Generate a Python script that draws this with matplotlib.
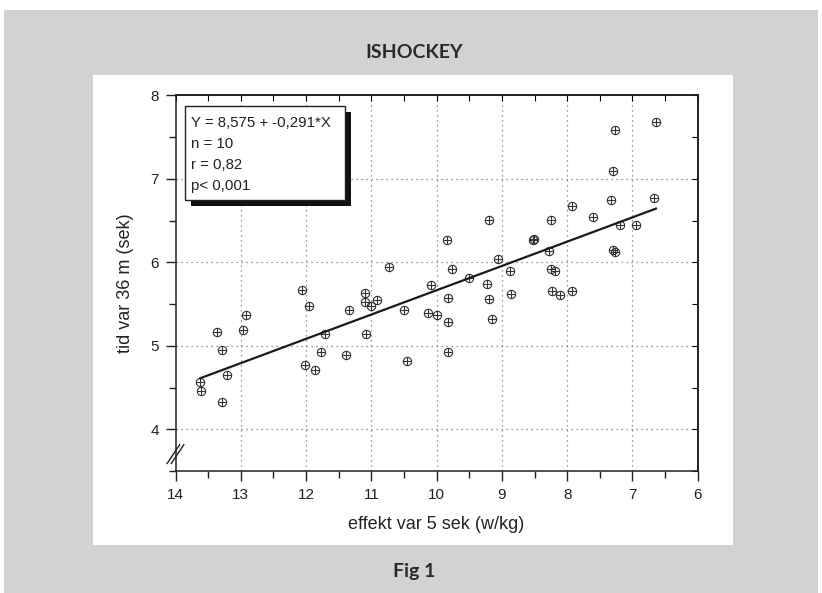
"""
    Ishockey: tid var 36 m mot effekt var 5 sek, med regressionslinje.
"""
# Modules:
import matplotlib
matplotlib.use("Agg")
import matplotlib.pyplot as plt
from matplotlib.patches import Rectangle
from matplotlib.ticker import MultipleLocator

# Data:
effekt = [13.62, 13.61, 13.29, 13.36, 13.29, 13.21, 12.97, 12.92, 12.06, 11.96,
          12.01, 11.87, 11.77, 11.71, 11.39, 11.34, 11.09, 11.10, 11.01, 10.92,
          11.08, 10.73, 10.50, 10.45, 10.13, 9.99, 10.09, 9.82, 9.82, 9.82,
          9.84, 9.76, 9.50, 9.23, 9.19, 9.15, 9.20, 9.06, 8.87, 8.86,
          8.53, 8.51, 8.28, 8.25, 8.25, 8.19, 8.23, 8.11, 7.93, 7.93,
          7.61, 7.33, 7.30, 7.27, 7.19, 6.94, 7.29, 7.26, 6.67, 6.64]
tid = [4.57, 4.46, 4.33, 5.16, 4.95, 4.65, 5.19, 5.37, 5.67, 5.48,
       4.77, 4.71, 4.92, 5.14, 4.89, 5.43, 5.63, 5.53, 5.48, 5.55,
       5.14, 5.94, 5.43, 4.82, 5.39, 5.37, 5.73, 5.57, 5.29, 4.92,
       6.27, 5.92, 5.81, 5.74, 5.56, 5.32, 6.51, 6.04, 5.89, 5.62,
       6.27, 6.28, 6.14, 6.51, 5.92, 5.90, 5.66, 5.61, 6.68, 5.65,
       6.54, 6.75, 7.09, 7.59, 6.45, 6.45, 6.15, 6.12, 6.77, 7.68]
intercept = 8.575
slope = -0.291
stats_lines = ["Y = 8,575 + -0,291*X", "n = 10", "r = 0,82", "p< 0,001"]
x_ticks = [14, 13, 12, 11, 10, 9, 8, 7, 6]
y_ticks = [4, 5, 6, 7, 8]

W, H = 822, 593
FONT = ["Liberation Sans", "DejaVu Sans"]
HEAD_FONT = ["Lato", "DejaVu Sans"]


def px_rect(fig, x0, y0, x1, y1, color):
    """ Rectangle in pixel coordinates (from top left). """
    fig.patches.append(Rectangle((x0 / W, 1 - y1 / H), (x1 - x0) / W, (y1 - y0) / H,
                                 transform=fig.transFigure, facecolor=color,
                                 edgecolor="none", zorder=-10))


def main():
    fig = plt.figure(figsize=(W / 100, H / 100), dpi=100)
    fig.patch.set_facecolor("white")

    # Gray frame and white panel:
    px_rect(fig, 4, 10, 818, 593, "#d1d2d4")
    px_rect(fig, 93, 75, 733, 545, "white")

    fig.text(414 / W, 1 - 53 / H, "ISHOCKEY", ha="center", va="center",
             fontsize=14, fontweight="bold", color="#2a2a2a", family=HEAD_FONT)
    fig.text(414 / W, 1 - 571 / H, "Fig 1", ha="center", va="center",
             fontsize=14, fontweight="bold", color="#2a2a2a", family=HEAD_FONT)

    ax = fig.add_axes([175.5 / W, 1 - 471 / H, 522.2 / W, 375.7 / H])
    ax.set_xlim(14, 6)
    ax.set_ylim(3.5, 8)

    # Grid:
    for xv in x_ticks[1:-1]:
        ax.axvline(xv, color="#777777", linestyle=(0, (1, 3)), linewidth=0.9, zorder=0)
    for yv in y_ticks[:-1]:
        ax.axhline(yv, color="#777777", linestyle=(0, (1, 3)), linewidth=0.9, zorder=0)

    # Points as circled plus:
    ax.plot(effekt, tid, linestyle="none", marker="o", markersize=6,
            markerfacecolor="none", markeredgecolor="#333333", markeredgewidth=0.8)
    ax.plot(effekt, tid, linestyle="none", marker="+", markersize=6,
            markeredgecolor="#333333", markeredgewidth=0.8)

    # Regression line:
    x0, x1 = max(effekt), min(effekt)
    ax.plot([x0, x1], [intercept + slope * x0, intercept + slope * x1],
            color="#1a1a1a", linewidth=1.6)

    # Ticks:
    ax.set_xticks(x_ticks)
    ax.set_yticks(y_ticks)
    ax.xaxis.set_minor_locator(MultipleLocator(0.5))
    ax.yaxis.set_minor_locator(MultipleLocator(0.5))
    ax.tick_params(which="both", direction="out", top=False, right=False,
                   labelsize=11, colors="#222222", width=1.0)
    ax.tick_params(which="major", length=7, pad=5)
    ax.tick_params(which="minor", length=5)
    for lab in ax.get_xticklabels() + ax.get_yticklabels():
        lab.set_family(FONT)

    top = ax.secondary_xaxis("top")
    top.set_xticks([x / 2 for x in range(12, 29)])
    top.tick_params(direction="in", length=4, labeltop=False)
    right = ax.secondary_yaxis("right")
    right.set_yticks([y / 2 for y in range(7, 17)])
    right.tick_params(direction="in", length=4, labelright=False)

    for s in ax.spines.values():
        s.set_linewidth(1.1)
        s.set_color("#222222")
    top.spines["top"].set_linewidth(1.1)
    right.spines["right"].set_linewidth(1.1)

    # Axis break on y:
    for dx in (0.0, 0.008):
        ax.plot([-0.016 + dx, 0.008 + dx], [0.02, 0.07], transform=ax.transAxes,
                color="#222222", linewidth=1.0, clip_on=False)

    ax.set_xlabel("effekt var 5 sek (w/kg)", fontsize=13, family=FONT,
                  color="#222222", labelpad=10)
    ax.set_ylabel("tid var 36 m (sek)", fontsize=13, family=FONT,
                  color="#222222", labelpad=12)

    # Stats box with shadow:
    bx0, by0, bx1, by1 = 185, 106, 345, 200
    sh = 6
    fig.patches.append(Rectangle(((bx0 + sh) / W, 1 - (by1 + sh) / H),
                                 (bx1 - bx0) / W, (by1 - by0) / H,
                                 transform=fig.transFigure, facecolor="#111111",
                                 edgecolor="none", zorder=5))
    fig.patches.append(Rectangle((bx0 / W, 1 - by1 / H), (bx1 - bx0) / W,
                                 (by1 - by0) / H, transform=fig.transFigure,
                                 facecolor="white", edgecolor="#222222",
                                 linewidth=1.0, zorder=6))
    for i, line in enumerate(stats_lines):
        fig.text(191 / W, 1 - (123 + i * 21) / H, line, ha="left", va="center",
                 fontsize=10.8, family=FONT, color="#222222", zorder=7)

    fig.savefig("out.png", dpi=100)


if __name__ == '__main__':
    main()
